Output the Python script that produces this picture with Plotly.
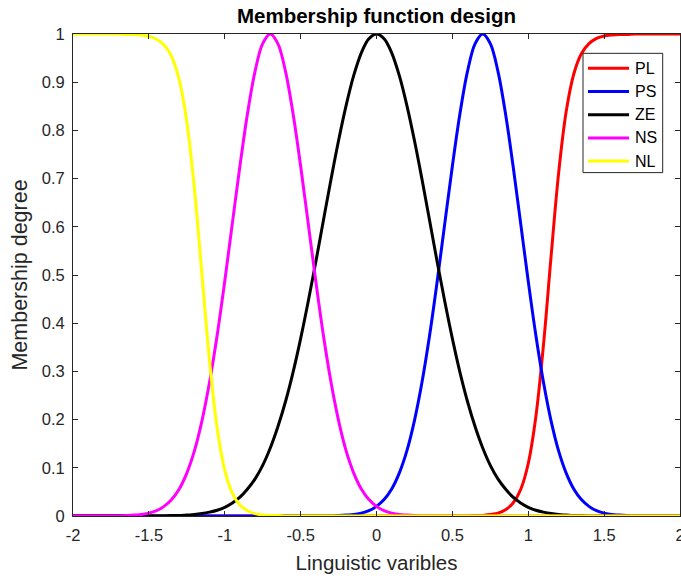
import plotly.graph_objects as go

# Input grid (linguistic variable)
x_vals = [-2.00, -1.95, -1.90, -1.85, -1.80, -1.75, -1.70, -1.65, -1.60, -1.55,
          -1.50, -1.45, -1.40, -1.35, -1.30, -1.25, -1.20, -1.15, -1.10, -1.05,
          -1.00, -0.95, -0.90, -0.85, -0.80, -0.75, -0.70, -0.65, -0.60, -0.55,
          -0.50, -0.45, -0.40, -0.35, -0.30, -0.25, -0.20, -0.15, -0.10, -0.05,
          0.00, 0.05, 0.10, 0.15, 0.20, 0.25, 0.30, 0.35, 0.40, 0.45,
          0.50, 0.55, 0.60, 0.65, 0.70, 0.75, 0.80, 0.85, 0.90, 0.95,
          1.00, 1.05, 1.10, 1.15, 1.20, 1.25, 1.30, 1.35, 1.40, 1.45,
          1.50, 1.55, 1.60, 1.65, 1.70, 1.75, 1.80, 1.85, 1.90, 1.95,
          2.00]

# Membership degrees
pl_vals = [0, 0, 0, 0, 0, 0, 0, 0, 0, 0,
           0, 0, 0, 0, 0, 0, 0, 0, 0, 0,
           0, 0, 0, 0, 0, 0, 0, 0, 0, 0,
           0, 0, 0, 0, 0, 0, 0, 0, 0, 0,
           0, 0, 0, 0, 0, 0, 0, 0, 0, 0,
           0, 0, 0, 0.001, 0.001, 0.003, 0.006, 0.013, 0.027, 0.055,
           0.109, 0.206, 0.354, 0.537, 0.711, 0.839, 0.917, 0.959, 0.980, 0.991,
           0.996, 0.998, 0.999, 0.999, 1, 1, 1, 1, 1, 1,
           1]

ps_vals = [0, 0, 0, 0, 0, 0, 0, 0, 0, 0,
           0, 0, 0, 0, 0, 0, 0, 0, 0, 0,
           0, 0, 0, 0, 0, 0, 0, 0, 0, 0,
           0, 0, 0, 0, 0, 0.001, 0.002, 0.003, 0.006, 0.011,
           0.020, 0.034, 0.056, 0.089, 0.135, 0.198, 0.278, 0.375, 0.487, 0.607,
           0.726, 0.835, 0.923, 0.980, 1.000, 0.980, 0.923, 0.835, 0.726, 0.607,
           0.487, 0.375, 0.278, 0.198, 0.135, 0.089, 0.056, 0.034, 0.020, 0.011,
           0.006, 0.003, 0.002, 0.001, 0, 0, 0, 0, 0, 0,
           0]

ze_vals = [0, 0, 0, 0, 0, 0, 0, 0, 0, 0,
           0, 0, 0, 0.001, 0.001, 0.002, 0.003, 0.005, 0.008, 0.012,
           0.018, 0.027, 0.039, 0.056, 0.077, 0.105, 0.141, 0.185, 0.237, 0.298,
           0.368, 0.445, 0.527, 0.613, 0.698, 0.779, 0.852, 0.914, 0.961, 0.990,
           1.000, 0.990, 0.961, 0.914, 0.852, 0.779, 0.698, 0.613, 0.527, 0.445,
           0.368, 0.298, 0.237, 0.185, 0.141, 0.105, 0.077, 0.056, 0.039, 0.027,
           0.018, 0.012, 0.008, 0.005, 0.003, 0.002, 0.001, 0.001, 0, 0,
           0, 0, 0, 0, 0, 0, 0, 0, 0, 0,
           0]

ns_vals = [0, 0, 0, 0, 0, 0, 0, 0.001, 0.002, 0.003,
           0.006, 0.011, 0.020, 0.034, 0.056, 0.089, 0.135, 0.198, 0.278, 0.375,
           0.487, 0.607, 0.726, 0.835, 0.923, 0.980, 1.000, 0.980, 0.923, 0.835,
           0.726, 0.607, 0.487, 0.375, 0.278, 0.198, 0.135, 0.089, 0.056, 0.034,
           0.020, 0.011, 0.006, 0.003, 0.002, 0.001, 0, 0, 0, 0,
           0, 0, 0, 0, 0, 0, 0, 0, 0, 0,
           0, 0, 0, 0, 0, 0, 0, 0, 0, 0,
           0, 0, 0, 0, 0, 0, 0, 0, 0, 0,
           0]

nl_vals = [1, 1, 1, 1, 1, 1, 1, 0.999, 0.999, 0.998,
           0.995, 0.989, 0.977, 0.953, 0.905, 0.818, 0.679, 0.500, 0.321, 0.182,
           0.095, 0.047, 0.023, 0.011, 0.005, 0.002, 0.001, 0.001, 0, 0,
           0, 0, 0, 0, 0, 0, 0, 0, 0, 0,
           0, 0, 0, 0, 0, 0, 0, 0, 0, 0,
           0, 0, 0, 0, 0, 0, 0, 0, 0, 0,
           0, 0, 0, 0, 0, 0, 0, 0, 0, 0,
           0, 0, 0, 0, 0, 0, 0, 0, 0, 0,
           0]

series_names = ["PL", "PS", "ZE", "NS", "NL"]
series_colors = ["#FF0000", "#0000FF", "#000000", "#FF00FF", "#FFFF00"]
series_values = [pl_vals, ps_vals, ze_vals, ns_vals, nl_vals]

x_ticks = [-2, -1.5, -1, -0.5, 0, 0.5, 1, 1.5, 2]
x_tick_text = ["-2", "-1.5", "-1", "-0.5", "0", "0.5", "1", "1.5", "2"]
y_ticks = [0, 0.1, 0.2, 0.3, 0.4, 0.5, 0.6, 0.7, 0.8, 0.9, 1]
y_tick_text = ["0", "0.1", "0.2", "0.3", "0.4", "0.5", "0.6", "0.7", "0.8", "0.9", "1"]

FONT = "Liberation Sans, Arial, Helvetica, sans-serif"
AXIS_COLOR = "#262626"
LINE_WIDTH = 3

fig = go.Figure()
for name, color, vals in zip(series_names, series_colors, series_values):
    fig.add_trace(go.Scatter(
        x=x_vals, y=vals, name=name, mode="lines", showlegend=False,
        line=dict(color=color, width=LINE_WIDTH, shape="spline", smoothing=1.0),
    ))

axis_common = dict(
    showline=True, linecolor=AXIS_COLOR, linewidth=1, mirror="ticks",
    ticks="inside", ticklen=5, tickwidth=1, tickcolor=AXIS_COLOR,
    showgrid=False, zeroline=False, ticklabeloverflow="allow", automargin=False,
    tickfont=dict(family=FONT, size=16.5, color=AXIS_COLOR),
)

fig.update_xaxes(
    range=[-2, 2], tickvals=x_ticks, ticktext=x_tick_text,
    title=dict(text="Linguistic varibles", font=dict(family=FONT, size=20.5, color=AXIS_COLOR), standoff=12),
    ticklabelstandoff=4,
    **axis_common,
)
fig.update_yaxes(
    range=[0, 1], tickvals=y_ticks, ticktext=y_tick_text,
    title=dict(text="Membership degree", font=dict(family=FONT, size=21.5, color=AXIS_COLOR), standoff=8),
    ticklabelstandoff=4,
    **axis_common,
)

# Boxed legend in the upper-right corner of the axes (paper coordinates)
LEG_BOX = dict(x0=0.8402, x1=0.9715, y0=0.7124, y1=0.9599)
LEG_LINE_X = (0.8484, 0.9160)
LEG_TEXT_X = 0.9225
LEG_ROWS_Y = [0.9288, 0.8807, 0.8325, 0.7844, 0.7363]

fig.add_shape(type="rect", xref="paper", yref="paper", layer="above",
              line=dict(color=AXIS_COLOR, width=1), fillcolor="white", **LEG_BOX)
for name, color, ry in zip(series_names, series_colors, LEG_ROWS_Y):
    fig.add_shape(type="line", xref="paper", yref="paper", layer="above",
                  x0=LEG_LINE_X[0], x1=LEG_LINE_X[1], y0=ry, y1=ry,
                  line=dict(color=color, width=LINE_WIDTH))
    fig.add_annotation(x=LEG_TEXT_X, y=ry, xref="paper", yref="paper",
                       text=name, showarrow=False, xanchor="left", yanchor="middle",
                       font=dict(family=FONT, size=16, color="#000000"))

fig.update_layout(
    width=681, height=578,
    margin=dict(l=73, r=1, t=34, b=62),
    plot_bgcolor="white", paper_bgcolor="white",
    font=dict(family=FONT, color=AXIS_COLOR),
    title=dict(
        text="<b>Membership function design</b>",
        x=0.5, xref="paper", xanchor="center",
        y=1 - 16 / 578, yref="container", yanchor="middle",
        font=dict(family=FONT, size=20.5, color="#000000"),
    ),
    showlegend=False,
)

fig.write_html("out.html")
